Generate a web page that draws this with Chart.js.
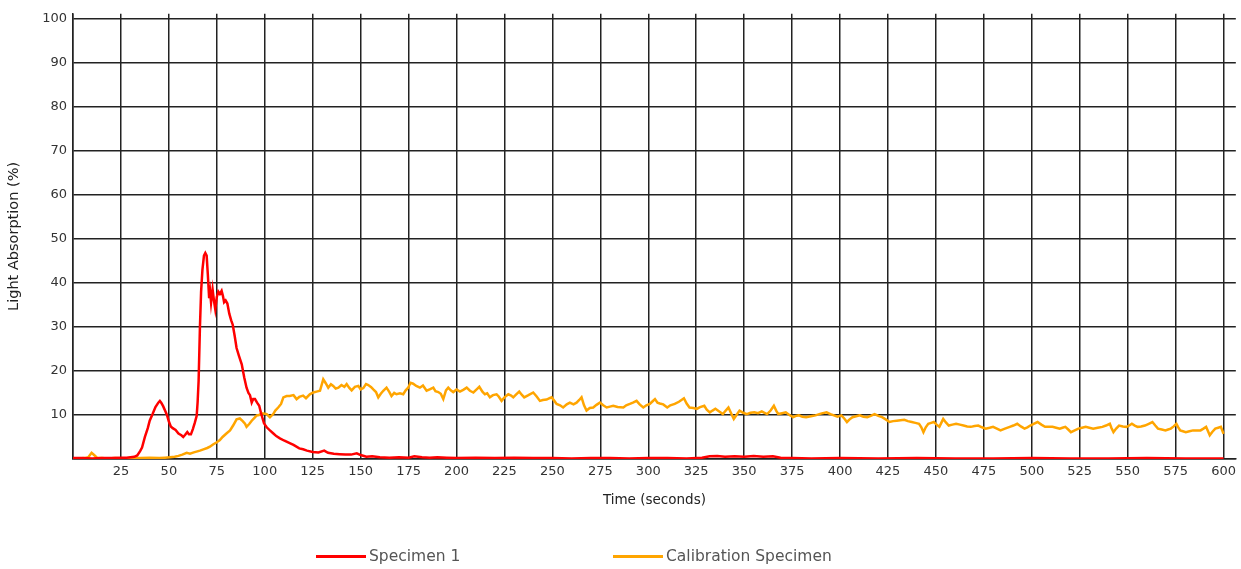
<!DOCTYPE html>
<html>
<head>
<meta charset="utf-8">
<script src="https://cdn.jsdelivr.net/npm/chart.js@4.4.1/dist/chart.umd.min.js"></script>
<style>
  body { margin: 0; background: #fff; }
  #wrap { position: relative; width: 1241px; height: 569px; }
  #legend { position: absolute; left: 0; top: 545px; width: 1241px; height: 22px; font-family: "DejaVu Sans", sans-serif; font-size: 15.5px; color: #555; }
  .item { position: absolute; top: 0; line-height: 22px; white-space: nowrap; }
  .item span.line { display: inline-block; width: 50px; height: 3px; vertical-align: middle; margin-right: 3px; }
</style>
</head>
<body>
<div id="wrap">
  <canvas id="absorptionChart" width="1241" height="569"></canvas>
  <div id="legend"></div>
</div>
<script>
// Specimen 1 readings (time in seconds, absorption %)
const spec1Time = [0, 5, 10, 15, 20, 25, 28, 30, 32, 33.5, 35, 36, 37.5, 39, 40, 41.5, 43, 44.5, 45.3, 46, 47, 48, 49, 50, 51, 52, 53.5, 55, 56.5, 57.5, 58.5, 59.6, 60.5, 61.5, 62.5, 63.5, 64.5, 65, 65.5, 66.2, 66.8, 67.5, 68.3, 69, 69.7, 70.3, 71, 71.5, 72, 72.8, 73.5, 74.2, 75, 75.8, 76.6, 77.5, 78.2, 78.8, 79.6, 80.5, 81.5, 82.5, 83.3, 84.3, 85.3, 86.5, 88, 89.3, 90.5, 91.5, 92.3, 93.2, 94, 94.9, 96, 97.1, 98, 99.6, 101, 102.7, 104.5, 106, 107.9, 110, 113, 115, 118, 120, 122, 125, 128, 131, 133, 136, 139, 142, 145, 148, 150, 153, 156, 160, 165, 170, 175, 178, 182, 186, 190, 195, 200, 210, 220, 230, 240, 250, 260, 270, 280, 290, 300, 310, 320, 328, 332, 336, 340, 345, 350, 355, 360, 365, 369, 375, 385, 400, 420, 440, 460, 480, 500, 520, 540, 560, 580, 600];
const spec1Values = [0.2, 0.2, 0.1, 0.2, 0.2, 0.3, 0.3, 0.4, 0.5, 0.8, 1.8, 2.6, 5, 7, 8.7, 10.2, 11.8, 12.8, 13.2, 12.8, 12, 11, 10, 8.5, 7.4, 7, 6.6, 5.8, 5.4, 5, 5.5, 6.1, 5.6, 5.6, 6.8, 8.2, 9.8, 13, 17.7, 30, 38, 43, 46.2, 46.8, 46.2, 42, 36.5, 38, 35.5, 38.5, 36, 34, 36.8, 38, 37.5, 38.2, 37, 35.6, 36, 35.3, 33, 31.5, 30.5, 28, 25.2, 23.5, 21.5, 18.5, 16.2, 15, 14.5, 12.8, 13.6, 13.6, 12.8, 12.1, 10.5, 8.1, 7.2, 6.5, 5.8, 5.2, 4.7, 4.2, 3.6, 3.2, 2.4, 2.2, 1.9, 1.6, 1.5, 1.9, 1.4, 1.2, 1.1, 1, 1, 1.3, 0.9, 0.5, 0.6, 0.4, 0.3, 0.4, 0.3, 0.6, 0.4, 0.3, 0.4, 0.3, 0.2, 0.3, 0.2, 0.3, 0.2, 0.2, 0.1, 0.2, 0.2, 0.1, 0.2, 0.2, 0.1, 0.3, 0.6, 0.7, 0.5, 0.6, 0.5, 0.7, 0.5, 0.6, 0.3, 0.2, 0.1, 0.2, 0.1, 0.2, 0.1, 0.1, 0.2, 0.1, 0.1, 0.2, 0.1, 0.1];

// Calibration Specimen readings
const calibTime = [0, 3, 6, 8, 9.7, 11, 12.5, 15, 18, 22, 26, 30, 35, 40, 45, 48, 50.6, 53, 55, 57, 59.3, 61, 63, 66.2, 68, 70, 71.4, 73, 75, 76.6, 78, 80, 81.9, 83.5, 85.3, 87, 88.5, 89.7, 90.5, 92, 93.2, 94.5, 95.8, 97, 98.4, 100, 101, 102.7, 104.4, 105.5, 107, 108.5, 109.7, 111.4, 113, 115, 116.6, 118, 120, 121.5, 123.5, 125.3, 127, 128.8, 130.5, 131.8, 133.1, 134.5, 135.7, 137, 138.4, 140, 141.5, 142.7, 144, 145.3, 147, 148.8, 150, 151.4, 152.8, 154, 155.5, 156.6, 158, 159.2, 160.5, 161.8, 163.5, 165, 166.1, 167.5, 168.7, 170.5, 172.2, 173.5, 174.8, 176, 177.4, 179, 180.9, 182.5, 184.4, 186, 187.9, 189, 190.5, 191.8, 193.1, 194.5, 195.7, 197, 198.3, 200, 201.8, 203.5, 205.3, 207, 208.8, 210.5, 211.9, 213.5, 214.8, 216, 217.4, 219, 220.9, 222, 223.5, 225, 227, 228.5, 229.6, 231, 232.7, 234, 235.3, 237.5, 240, 241.8, 243.5, 245, 247, 248.5, 249.6, 251, 252.2, 254, 255.6, 257.5, 259.1, 261, 262.6, 264, 265.2, 266.5, 267.8, 269.5, 271.3, 273, 274.8, 276.5, 278.3, 280, 281.7, 284, 287, 288.5, 290.4, 292, 293.9, 295.5, 297.4, 299, 300.8, 302, 303.5, 304.8, 306, 307.8, 309.9, 311.5, 313.8, 316, 318.6, 320, 321.5, 323.5, 325.3, 327, 329.2, 330.5, 332.1, 333.5, 335, 337, 338.9, 340.4, 341.8, 343.2, 344.6, 346, 347.6, 349.5, 351.4, 353.3, 355.3, 357.2, 359.2, 360.6, 362, 363.8, 365.5, 366.7, 367.8, 369.8, 371.7, 373.6, 375.6, 377, 378.5, 380.4, 382.3, 384.8, 387.2, 390, 393, 395, 396.8, 398.7, 400.7, 402.2, 403.6, 405, 406.5, 408.4, 410.3, 412.2, 414.2, 416, 418, 420, 421.9, 423.8, 425.8, 427.7, 429.6, 431.5, 433.5, 435.4, 437.4, 439.3, 441.2, 442.4, 443.5, 444.7, 446, 447.5, 448.9, 450.4, 451.8, 452.8, 453.8, 455.2, 456.7, 458.6, 460.5, 462.5, 464.4, 466.3, 468.2, 470.2, 472.1, 474, 476, 478, 479.8, 481.8, 483.7, 486, 488.5, 490.4, 492.4, 494.3, 496.2, 497.7, 499.2, 501, 503, 505, 506.9, 508.8, 510.8, 512.7, 514.6, 516, 517.5, 519, 520.4, 522.4, 524.3, 526.2, 528.1, 530, 532, 534.4, 536.8, 538.7, 540.7, 541.6, 542.6, 544, 545.5, 547.5, 549.4, 550.8, 552.2, 553.7, 555.2, 557, 559, 561, 562.9, 564.4, 565.8, 567.8, 569.7, 571.1, 572.5, 574, 575.4, 576.4, 577.4, 578.8, 580.3, 582.2, 584.1, 586, 588, 589.5, 590.9, 591.8, 592.8, 594.2, 595.7, 597.2, 598.6, 600];
const calibValues = [0.1, 0.1, 0.2, 0.4, 1.4, 0.9, 0.3, 0.2, 0.1, 0.2, 0.1, 0.2, 0.2, 0.3, 0.2, 0.3, 0.4, 0.5, 0.7, 1, 1.4, 1.2, 1.5, 1.9, 2.2, 2.5, 2.8, 3.3, 3.8, 4.3, 5, 5.8, 6.5, 7.6, 9, 9.2, 8.6, 8, 7.3, 8, 8.7, 9.3, 9.9, 10, 10.4, 10.3, 10.2, 9.5, 10.2, 11, 11.7, 12.5, 14, 14.3, 14.3, 14.5, 13.6, 14.1, 14.4, 13.8, 14.7, 15.1, 15.3, 15.5, 18.1, 17.2, 16.2, 17, 16.6, 16, 16.2, 16.8, 16.4, 17, 16.2, 15.6, 16.4, 16.6, 15.8, 16.1, 17, 16.8, 16.3, 15.8, 15.2, 14, 14.8, 15.5, 16.2, 15.2, 14.3, 15, 14.7, 14.9, 14.7, 15.6, 16.2, 17.3, 17.1, 16.6, 16.2, 16.7, 15.5, 15.8, 16.2, 15.4, 15.2, 14.8, 13.6, 15.6, 16.2, 15.6, 15.2, 15.8, 15.3, 15.7, 16.2, 15.5, 15.1, 15.8, 16.4, 15.3, 14.7, 14.9, 14, 14.5, 14.7, 14.2, 13.2, 14, 14.7, 14.4, 14, 14.6, 15.3, 14.6, 14, 14.5, 15.1, 14.2, 13.2, 13.4, 13.5, 13.8, 14, 13.2, 12.5, 12.2, 11.7, 12.4, 12.8, 12.4, 12.8, 13.4, 14, 12.2, 11, 11.6, 11.7, 12.3, 12.8, 12.2, 11.7, 11.9, 12.1, 11.8, 11.7, 12.2, 12.5, 12.8, 13.2, 12.4, 11.7, 12.2, 12.5, 13, 13.6, 12.8, 12.6, 12.4, 11.7, 12.2, 12.5, 13, 13.8, 12.6, 11.7, 11.6, 11.4, 11.8, 12.1, 11.2, 10.6, 11, 11.4, 10.8, 10.2, 11, 11.7, 10.4, 9.1, 10, 11, 10.5, 10.2, 10.5, 10.6, 10.4, 10.8, 10.5, 10.2, 11, 12.1, 11, 10.2, 10.4, 10.6, 10, 9.5, 9.8, 9.9, 9.6, 9.5, 9.7, 9.9, 10.3, 10.6, 10.2, 9.9, 9.6, 9.9, 9.2, 8.4, 9, 9.5, 9.7, 9.9, 9.6, 9.5, 9.8, 10.2, 9.8, 9.5, 9, 8.4, 8.6, 8.7, 8.8, 8.9, 8.6, 8.4, 8.2, 8, 7.2, 6.1, 7.2, 8, 8.2, 8.4, 7.8, 7.3, 8.2, 9.1, 8.3, 7.6, 7.8, 8, 7.8, 7.6, 7.4, 7.3, 7.5, 7.6, 7.2, 6.9, 7.1, 7.3, 6.9, 6.5, 6.9, 7.3, 7.6, 8, 7.4, 6.9, 7.2, 7.6, 8, 8.4, 7.8, 7.3, 7.3, 7.3, 7.1, 6.9, 7.1, 7.3, 6.7, 6.1, 6.5, 6.9, 7.1, 7.3, 7.1, 6.9, 7.1, 7.3, 7.6, 8, 7, 6.1, 6.9, 7.6, 7.4, 7.3, 7.6, 8, 7.6, 7.3, 7.4, 7.6, 8, 8.4, 7.6, 6.9, 6.7, 6.5, 6.7, 6.9, 7.4, 8, 7.2, 6.5, 6.3, 6.1, 6.3, 6.5, 6.5, 6.5, 6.9, 7.3, 6.4, 5.4, 6.2, 6.9, 7.1, 7.3, 5.7];

const seriesNames = ['Specimen 1', 'Calibration Specimen'];
const seriesColors = ['#ff0000', '#ffa500'];

function toPoints(xs, ys) {
    return xs.map((x, i) => ({ x: x, y: ys[i] }));
}

const gridColor = '#222';

new Chart(document.getElementById('absorptionChart'), {
    type: 'line',
    data: {
        datasets: [
            {
                label: seriesNames[0],
                data: toPoints(spec1Time, spec1Values),
                borderColor: seriesColors[0],
                borderWidth: 2.5,
                pointRadius: 0,
                fill: false
            },
            {
                label: seriesNames[1],
                data: toPoints(calibTime, calibValues),
                borderColor: seriesColors[1],
                borderWidth: 2.5,
                pointRadius: 0,
                fill: false
            }
        ]
    },
    options: {
        responsive: false,
        animation: false,
        layout: { padding: { top: 8, right: 4, bottom: 54, left: 0 } },
        plugins: {
            legend: { display: false },
            tooltip: { enabled: false }
        },
        scales: {
            x: {
                type: 'linear',
                min: 0,
                max: 606.4,
                afterFit: (scale) => { scale.height = 56; },
                ticks: {
                    stepSize: 25,
                    includeBounds: false,
                    padding: 5,
                    color: '#333',
                    font: { family: 'DejaVu Sans', size: 13 },
                    maxRotation: 0,
                    autoSkip: false,
                    callback: (v) => v === 0 ? '' : v
                },
                grid: { color: gridColor, lineWidth: 1.5, drawTicks: false },
                border: { color: gridColor, width: 1.5 },
                title: {
                    display: true,
                    text: 'Time (seconds)',
                    color: '#222',
                    font: { family: 'DejaVu Sans', size: 13.5 },
                    padding: { top: 0, bottom: 6 }
                }
            },
            y: {
                min: 0,
                max: 101.1,
                afterFit: (scale) => { scale.width = 73; },
                ticks: {
                    stepSize: 10,
                    includeBounds: false,
                    padding: 6,
                    color: '#333',
                    font: { family: 'DejaVu Sans', size: 13 },
                    callback: (v) => v === 0 ? '' : v
                },
                grid: { color: gridColor, lineWidth: 1.5, drawTicks: false },
                border: { color: gridColor, width: 1.5 },
                title: {
                    display: true,
                    text: 'Light Absorption (%)',
                    color: '#222',
                    font: { family: 'DejaVu Sans', size: 14.5 },
                    padding: { top: 6, bottom: 0 }
                }
            }
        }
    }
});

// legend below the chart, line swatch + label
const legendLeft = [316, 613];
const legendEl = document.getElementById('legend');
seriesNames.forEach((name, i) => {
    const item = document.createElement('div');
    item.className = 'item';
    item.style.left = legendLeft[i] + 'px';
    const sw = document.createElement('span');
    sw.className = 'line';
    sw.style.background = seriesColors[i];
    item.appendChild(sw);
    item.appendChild(document.createTextNode(name));
    legendEl.appendChild(item);
});
</script>
</body>
</html>
